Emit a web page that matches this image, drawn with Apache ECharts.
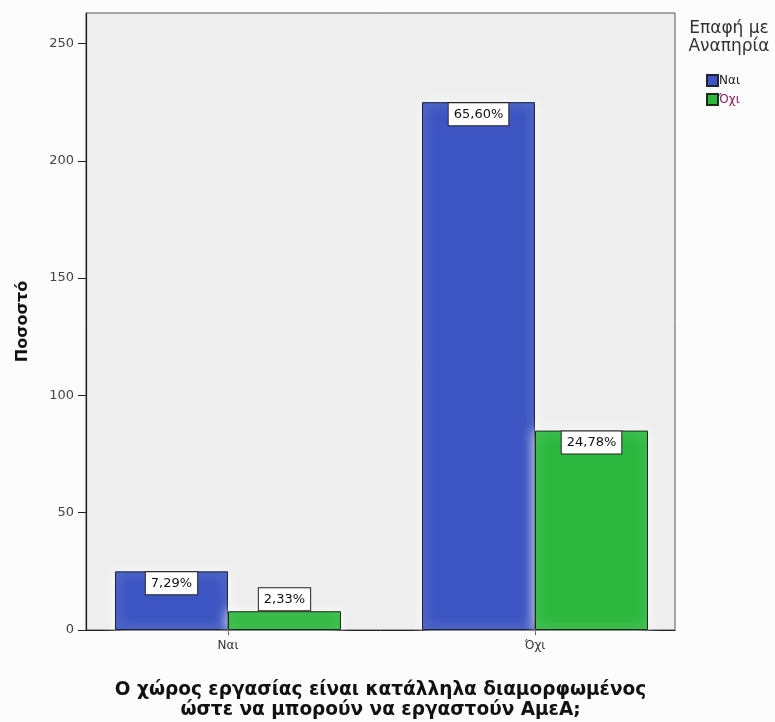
<!DOCTYPE html>
<html>
<head>
<meta charset="utf-8">
<script src="https://cdn.jsdelivr.net/npm/echarts@6/dist/echarts.min.js"></script>
<style>
html,body{margin:0;padding:0;background:#fcfcfc;}
#c{width:775px;height:722px;}
</style>
</head>
<body>
<div id="c"></div>
<script>
// Data
const categories = ['Ναι', 'Όχι'];            // x categories
const categoryPos = [1, 2];                    // category positions on the x scale
const seriesNames = ['Ναι', 'Όχι'];            // legend: Επαφή με Αναπηρία
const valuesNai = [25, 225];                   // contact = Ναι
const valuesOxi = [8, 85];                     // contact = Όχι
const yTicks = [0, 50, 100, 150, 200, 250];

const total = valuesNai.concat(valuesOxi).reduce((a, b) => a + b, 0);
const pct = v => (v / total * 100).toFixed(2).replace('.', ',') + '%';

const FONT = '"DejaVu Sans", Verdana, sans-serif';

const labelBase = {
  show: true,
  formatter: p => pct(p.value[1]),
  backgroundColor: '#ffffff',
  borderColor: '#222',
  borderWidth: 1,
  padding: [5, 5, 4, 5],
  fontSize: 13,
  fontFamily: FONT,
  color: '#111'
};

function mkData(vals) {
  return vals.map((v, i) => {
    const d = { value: [categoryPos[i], v] };
    if (v < 15) {
      d.label = { position: 'top', distance: 1 };
    }
    return d;
  });
}

const chart = echarts.init(document.getElementById('c'), null, { renderer: 'canvas' });

chart.setOption({
  backgroundColor: '#fcfcfc',
  animation: false,
  textStyle: { fontFamily: FONT },
  title: {
    text: 'Επαφή με\nΑναπηρία',
    left: 724,
    top: 15,
    textAlign: 'center',
    textStyle: { fontSize: 17, fontWeight: 'normal', color: '#333', lineHeight: 18, fontFamily: FONT }
  },
  legend: {
    orient: 'vertical',
    left: 706,
    top: 74,
    padding: 0,
    icon: 'rect',
    itemWidth: 11,
    itemHeight: 11,
    itemGap: 6,
    textStyle: { fontSize: 12, fontFamily: FONT, padding: [0, 0, 0, -4] },
    data: [
      { name: seriesNames[0], textStyle: { color: '#222' } },
      { name: seriesNames[1], textStyle: { color: '#8a2060' } }
    ]
  },
  grid: {
    left: 86, top: 13, right: 100, bottom: 92,
    outerBoundsMode: 'none',
    containLabel: false,
    show: true,
    backgroundColor: '#eeeeee',
    borderColor: '#555',
    borderWidth: 1
  },
  xAxis: {
    type: 'value',
    min: 0.5375,
    max: 2.456,
    splitLine: { show: false },
    axisLine: { show: true, onZero: false, lineStyle: { color: '#222', width: 1 } },
    axisTick: { show: true, customValues: categoryPos, length: 5, lineStyle: { color: '#222' } },
    axisLabel: {
      customValues: categoryPos,
      formatter: v => categories[categoryPos.indexOf(v)] || '',
      fontSize: 12, color: '#333', margin: 10, fontFamily: FONT
    },
    name: 'Ο χώρος εργασίας είναι κατάλληλα διαμορφωμένος\nώστε να μπορούν να εργαστούν ΑμεΑ;',
    nameLocation: 'middle',
    nameGap: 50,
    nameTextStyle: { fontSize: 18.5, fontWeight: 'bold', color: '#111', lineHeight: 20, fontFamily: FONT }
  },
  yAxis: {
    type: 'value',
    min: 0,
    max: 263,
    interval: 50,
    splitLine: { show: false },
    axisLine: { show: true, lineStyle: { color: '#222', width: 1.2 } },
    axisTick: { show: true, length: 8, lineStyle: { color: '#222' } },
    axisLabel: {
      showMaxLabel: false,
      fontSize: 13, color: '#444', margin: 12, fontFamily: FONT,
      formatter: v => yTicks.indexOf(v) >= 0 ? String(v) : ''
    },
    name: 'Ποσοστό',
    nameLocation: 'middle',
    nameGap: 55,
    nameTextStyle: { fontSize: 16, fontWeight: 'bold', color: '#111', fontFamily: FONT }
  },
  series: [
    {
      name: seriesNames[0],
      type: 'bar',
      barWidth: 113,
      barGap: '0%',
      data: mkData(valuesNai),
      itemStyle: {
        color: '#3d55c2',
        borderColor: '#1e2233',
        borderWidth: 1,
        shadowColor: 'rgba(255,255,255,0.95)',
        shadowBlur: 12
      },
      label: Object.assign({}, labelBase, { position: 'insideTop', distance: 1 })
    },
    {
      name: seriesNames[1],
      type: 'bar',
      barWidth: 113,
      barGap: '0%',
      data: mkData(valuesOxi),
      itemStyle: {
        color: '#2cb83e',
        borderColor: '#1e2a1e',
        borderWidth: 1,
        shadowColor: 'rgba(255,255,255,0.95)',
        shadowBlur: 12
      },
      label: Object.assign({}, labelBase, { position: 'insideTop', distance: 1 })
    }
  ]
});
</script>
</body>
</html>
